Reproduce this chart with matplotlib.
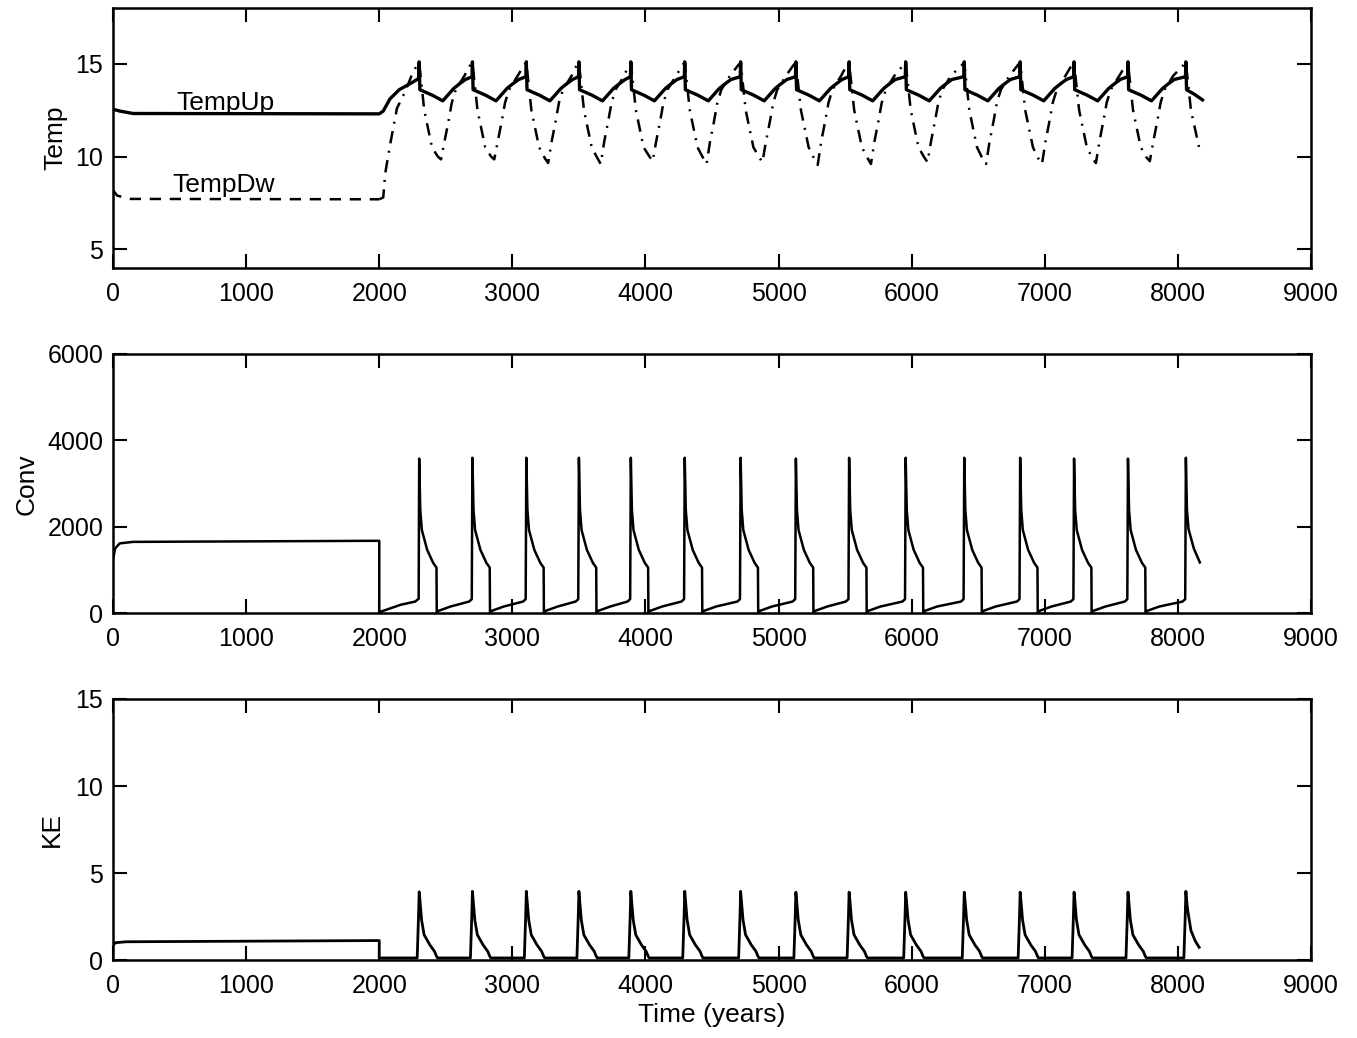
import numpy as np
import matplotlib
matplotlib.use("Agg")
import matplotlib.pyplot as plt

plt.rcParams['font.family'] = ['Liberation Sans', 'DejaVu Sans']

# ---- data (time in years) ----
# upper layer temperature
tempup_t = [0, 50, 150, 2000, 2030, 2080, 2150, 2250, 2295,
            2300, 2305, 2400, 2477, 2520, 2560, 2600, 2647, 2697,
            2700, 2705, 2800, 2877, 2920, 2960, 3000, 3047, 3102,
            3105, 3110, 3205, 3282, 3325, 3365, 3405, 3452, 3497,
            3500, 3505, 3600, 3677, 3720, 3760, 3800, 3847, 3887,
            3890, 3895, 3990, 4067, 4110, 4150, 4190, 4237, 4292,
            4295, 4300, 4395, 4472, 4515, 4555, 4595, 4642, 4712,
            4715, 4720, 4815, 4892, 4935, 4975, 5015, 5062, 5127,
            5130, 5135, 5230, 5307, 5350, 5390, 5430, 5477, 5527,
            5530, 5535, 5630, 5707, 5750, 5790, 5830, 5877, 5952,
            5955, 5960, 6055, 6132, 6175, 6215, 6255, 6302, 6392,
            6395, 6400, 6495, 6572, 6615, 6655, 6695, 6742, 6812,
            6815, 6820, 6915, 6992, 7035, 7075, 7115, 7162, 7217,
            7220, 7225, 7320, 7397, 7440, 7480, 7520, 7567, 7622,
            7625, 7630, 7725, 7802, 7845, 7885, 7925, 7972, 8057,
            8060, 8065, 8125, 8185]
tempup_v = [12.55, 12.45, 12.32, 12.3, 12.45, 13.1, 13.6, 14.0, 14.2,
            15.1, 13.6, 13.3, 13.0, 13.35, 13.67, 13.9, 14.15, 14.3,
            15.1, 13.6, 13.3, 13.0, 13.35, 13.67, 13.9, 14.15, 14.3,
            15.1, 13.6, 13.3, 13.0, 13.35, 13.67, 13.9, 14.15, 14.3,
            15.1, 13.6, 13.3, 13.0, 13.35, 13.67, 13.9, 14.15, 14.3,
            15.1, 13.6, 13.3, 13.0, 13.35, 13.67, 13.9, 14.15, 14.3,
            15.1, 13.6, 13.3, 13.0, 13.35, 13.67, 13.9, 14.15, 14.3,
            15.1, 13.6, 13.3, 13.0, 13.35, 13.67, 13.9, 14.15, 14.3,
            15.1, 13.6, 13.3, 13.0, 13.35, 13.67, 13.9, 14.15, 14.3,
            15.1, 13.6, 13.3, 13.0, 13.35, 13.67, 13.9, 14.15, 14.3,
            15.1, 13.6, 13.3, 13.0, 13.35, 13.67, 13.9, 14.15, 14.3,
            15.1, 13.6, 13.3, 13.0, 13.35, 13.67, 13.9, 14.15, 14.3,
            15.1, 13.6, 13.3, 13.0, 13.35, 13.67, 13.9, 14.15, 14.3,
            15.1, 13.6, 13.3, 13.0, 13.35, 13.67, 13.9, 14.15, 14.3,
            15.1, 13.6, 13.3, 13.0, 13.35, 13.67, 13.9, 14.15, 14.3,
            15.1, 13.6, 13.35, 13.05]

# deep layer temperature
tempdw_t = [0, 30, 130, 2000, 2030, 2045, 2083, 2133, 2195, 2245, 2285,
            2300, 2338, 2396, 2440, 2464, 2490, 2520, 2545, 2575, 2640, 2685,
            2700, 2738, 2796, 2840, 2864, 2890, 2920, 2945, 2975, 3040, 3090,
            3105, 3143, 3201, 3245, 3269, 3295, 3325, 3350, 3380, 3445, 3485,
            3500, 3538, 3596, 3640, 3664, 3690, 3720, 3745, 3775, 3840, 3875,
            3890, 3928, 3986, 4030, 4054, 4080, 4110, 4135, 4165, 4230, 4280,
            4295, 4333, 4391, 4435, 4459, 4485, 4515, 4540, 4570, 4635, 4700,
            4715, 4753, 4811, 4855, 4879, 4905, 4935, 4960, 4990, 5055, 5115,
            5130, 5168, 5226, 5270, 5294, 5320, 5350, 5375, 5405, 5470, 5515,
            5530, 5568, 5626, 5670, 5694, 5720, 5750, 5775, 5805, 5870, 5940,
            5955, 5993, 6051, 6095, 6119, 6145, 6175, 6200, 6230, 6295, 6380,
            6395, 6433, 6491, 6535, 6559, 6585, 6615, 6640, 6670, 6735, 6800,
            6815, 6853, 6911, 6955, 6979, 7005, 7035, 7060, 7090, 7155, 7205,
            7220, 7258, 7316, 7360, 7384, 7410, 7440, 7465, 7495, 7560, 7610,
            7625, 7663, 7721, 7765, 7789, 7815, 7845, 7870, 7900, 7965, 8045,
            8060, 8098, 8165]
tempdw_v = [8.2, 7.9, 7.72, 7.7, 7.8, 9.1, 10.7, 12.6, 13.5, 14.4, 14.95,
            15.05, 12.5, 10.5, 10.0, 9.85, 10.8, 11.9, 12.9, 13.6, 14.35, 14.95,
            15.05, 12.5, 10.5, 10.0, 9.85, 10.8, 11.9, 12.9, 13.6, 14.35, 14.95,
            15.05, 12.5, 10.5, 9.9, 9.65, 10.8, 11.9, 12.9, 13.6, 14.35, 14.95,
            15.05, 12.5, 10.5, 9.9, 9.6, 10.8, 11.9, 12.9, 13.6, 14.35, 14.95,
            15.05, 12.5, 10.5, 10.0, 9.75, 10.8, 11.9, 12.9, 13.6, 14.35, 14.95,
            15.05, 12.5, 10.5, 9.9, 9.6, 10.8, 11.9, 12.9, 13.6, 14.35, 14.95,
            15.05, 12.5, 10.5, 9.95, 9.7, 10.8, 11.9, 12.9, 13.6, 14.35, 14.95,
            15.05, 12.5, 10.5, 9.85, 9.55, 10.8, 11.9, 12.9, 13.6, 14.35, 14.95,
            15.05, 12.5, 10.5, 9.9, 9.6, 10.8, 11.9, 12.9, 13.6, 14.35, 14.95,
            15.05, 12.5, 10.5, 9.95, 9.7, 10.8, 11.9, 12.9, 13.6, 14.35, 14.95,
            15.05, 12.5, 10.5, 9.85, 9.6, 10.8, 11.9, 12.9, 13.6, 14.35, 14.95,
            15.05, 12.5, 10.5, 9.85, 9.6, 10.8, 11.9, 12.9, 13.6, 14.35, 14.95,
            15.05, 12.5, 10.5, 9.9, 9.65, 10.8, 11.9, 12.9, 13.6, 14.35, 14.95,
            15.05, 12.5, 10.5, 9.95, 9.75, 10.8, 11.9, 12.9, 13.6, 14.35, 14.95,
            15.05, 12.5, 10.3]

# convection
conv_t = [0, 15, 50, 150, 2000, 2000, 2010, 2160, 2270, 2296,
          2300, 2308, 2320, 2360, 2405, 2430, 2432, 2445, 2535, 2675, 2695,
          2700, 2708, 2720, 2760, 2805, 2830, 2832, 2845, 2935, 3080, 3100,
          3105, 3113, 3125, 3165, 3210, 3235, 3237, 3250, 3340, 3475, 3495,
          3500, 3508, 3520, 3560, 3605, 3630, 3632, 3645, 3735, 3865, 3885,
          3890, 3898, 3910, 3950, 3995, 4020, 4022, 4035, 4125, 4270, 4290,
          4295, 4303, 4315, 4355, 4400, 4425, 4427, 4440, 4530, 4690, 4710,
          4715, 4723, 4735, 4775, 4820, 4845, 4847, 4860, 4950, 5105, 5125,
          5130, 5138, 5150, 5190, 5235, 5260, 5262, 5275, 5365, 5505, 5525,
          5530, 5538, 5550, 5590, 5635, 5660, 5662, 5675, 5765, 5930, 5950,
          5955, 5963, 5975, 6015, 6060, 6085, 6087, 6100, 6190, 6370, 6390,
          6395, 6403, 6415, 6455, 6500, 6525, 6527, 6540, 6630, 6790, 6810,
          6815, 6823, 6835, 6875, 6920, 6945, 6947, 6960, 7050, 7195, 7215,
          7220, 7228, 7240, 7280, 7325, 7350, 7352, 7365, 7455, 7600, 7620,
          7625, 7633, 7645, 7685, 7730, 7755, 7757, 7770, 7860, 8035, 8055,
          8060, 8068, 8080, 8120, 8165]
conv_v = [1240, 1500, 1620, 1655, 1680, 15, 40, 200, 275, 340,
          3580, 2400, 1930, 1470, 1170, 1060, 15, 60, 160, 275, 330,
          3600, 2400, 1930, 1470, 1170, 1060, 15, 60, 160, 275, 330,
          3600, 2400, 1930, 1470, 1170, 1060, 15, 60, 160, 275, 330,
          3600, 2400, 1930, 1470, 1170, 1060, 15, 60, 160, 275, 330,
          3600, 2400, 1930, 1470, 1170, 1060, 15, 60, 160, 275, 330,
          3600, 2400, 1930, 1470, 1170, 1060, 15, 60, 160, 275, 330,
          3600, 2400, 1930, 1470, 1170, 1060, 15, 60, 160, 275, 330,
          3580, 2400, 1930, 1470, 1170, 1060, 15, 60, 160, 275, 330,
          3600, 2400, 1930, 1470, 1170, 1060, 15, 60, 160, 275, 330,
          3600, 2400, 1930, 1470, 1170, 1060, 15, 60, 160, 275, 330,
          3600, 2400, 1930, 1470, 1170, 1060, 15, 60, 160, 275, 330,
          3600, 2400, 1930, 1470, 1170, 1060, 15, 60, 160, 275, 330,
          3580, 2400, 1930, 1470, 1170, 1060, 15, 60, 160, 275, 330,
          3580, 2400, 1930, 1470, 1170, 1060, 15, 60, 160, 275, 330,
          3600, 2400, 1950, 1500, 1180]

# kinetic energy
ke_t = [0, 20, 100, 2000, 2000,
        2285, 2295, 2300, 2305, 2318, 2337, 2380, 2415, 2430, 2438,
        2685, 2695, 2700, 2705, 2718, 2737, 2780, 2815, 2830, 2838,
        3090, 3100, 3105, 3110, 3123, 3142, 3185, 3220, 3235, 3243,
        3485, 3495, 3500, 3505, 3518, 3537, 3580, 3615, 3630, 3638,
        3875, 3885, 3890, 3895, 3908, 3927, 3970, 4005, 4020, 4028,
        4280, 4290, 4295, 4300, 4313, 4332, 4375, 4410, 4425, 4433,
        4700, 4710, 4715, 4720, 4733, 4752, 4795, 4830, 4845, 4853,
        5115, 5125, 5130, 5135, 5148, 5167, 5210, 5245, 5260, 5268,
        5515, 5525, 5530, 5535, 5548, 5567, 5610, 5645, 5660, 5668,
        5940, 5950, 5955, 5960, 5973, 5992, 6035, 6070, 6085, 6093,
        6380, 6390, 6395, 6400, 6413, 6432, 6475, 6510, 6525, 6533,
        6800, 6810, 6815, 6820, 6833, 6852, 6895, 6930, 6945, 6953,
        7205, 7215, 7220, 7225, 7238, 7257, 7300, 7335, 7350, 7358,
        7610, 7620, 7625, 7630, 7643, 7662, 7705, 7740, 7755, 7763,
        8045, 8055, 8060, 8065, 8073, 8098, 8130, 8160]
ke_v = [0.86, 1.0, 1.05, 1.12, 0.12,
        0.12, 2.5, 3.92, 3.5, 2.3, 1.45, 0.87, 0.5, 0.22, 0.12,
        0.12, 2.5, 3.95, 3.5, 2.3, 1.45, 0.87, 0.5, 0.22, 0.12,
        0.12, 2.5, 3.95, 3.5, 2.3, 1.45, 0.87, 0.5, 0.22, 0.12,
        0.12, 2.5, 3.95, 3.5, 2.3, 1.45, 0.87, 0.5, 0.22, 0.12,
        0.12, 2.5, 3.95, 3.5, 2.3, 1.45, 0.87, 0.5, 0.22, 0.12,
        0.12, 2.5, 3.95, 3.5, 2.3, 1.45, 0.87, 0.5, 0.22, 0.12,
        0.12, 2.5, 3.95, 3.5, 2.3, 1.45, 0.87, 0.5, 0.22, 0.12,
        0.12, 2.5, 3.9, 3.5, 2.3, 1.45, 0.87, 0.5, 0.22, 0.12,
        0.12, 2.5, 3.9, 3.5, 2.3, 1.45, 0.87, 0.5, 0.22, 0.12,
        0.12, 2.5, 3.9, 3.5, 2.3, 1.45, 0.87, 0.5, 0.22, 0.12,
        0.12, 2.5, 3.9, 3.5, 2.3, 1.45, 0.87, 0.5, 0.22, 0.12,
        0.12, 2.5, 3.9, 3.5, 2.3, 1.45, 0.87, 0.5, 0.22, 0.12,
        0.12, 2.5, 3.9, 3.5, 2.3, 1.45, 0.87, 0.5, 0.22, 0.12,
        0.12, 2.5, 3.9, 3.5, 2.3, 1.45, 0.87, 0.5, 0.22, 0.12,
        0.12, 2.5, 3.95, 3.5, 2.9, 1.7, 1.1, 0.73]

xticks = [0, 1000, 2000, 3000, 4000, 5000, 6000, 7000, 8000, 9000]

# ---- figure ----
fig = plt.figure(figsize=(13.57, 10.38), dpi=100)
ax1 = fig.add_axes([0.0833, 0.7418, 0.8828, 0.2505])
ax2 = fig.add_axes([0.0833, 0.4090, 0.8828, 0.2500])
ax3 = fig.add_axes([0.0833, 0.0751, 0.8828, 0.2515])

fs = 18
lfs = 19

# Temp panel: deep temp dashed during spin-up, dash-dot afterwards
tdw = np.array(tempdw_t)
vdw = np.array(tempdw_v)
spin = tdw <= 2000
osc = tdw >= 2000
ax1.plot(tempup_t, tempup_v, color='k', lw=2.4)
ax1.plot(tdw[spin], vdw[spin], color='k', lw=1.8, linestyle=(0, (4.5, 3.5)))
ax1.plot(tdw[osc], vdw[osc], color='k', lw=1.8,
         linestyle=(0, (5, 3, 0.8, 3)))
ax1.text(479, 12.52, 'TempUp', fontsize=lfs, va='baseline', ha='left')
ax1.text(449, 8.09, 'TempDw', fontsize=lfs, va='baseline', ha='left')
ax1.set_ylim(4, 18)
ax1.set_yticks([5, 10, 15])
ax1.set_ylabel('Temp', fontsize=lfs, labelpad=6)

# Conv panel
ax2.plot(conv_t, conv_v, color='k', lw=1.8)
ax2.set_ylim(0, 6000)
ax2.set_yticks([0, 2000, 4000, 6000])
ax2.set_ylabel('Conv', fontsize=lfs, labelpad=6)

# KE panel
ax3.plot(ke_t, ke_v, color='k', lw=2.0)
ax3.set_ylim(0, 15)
ax3.set_yticks([0, 5, 10, 15])
ax3.set_ylabel('KE', fontsize=lfs, labelpad=8)
ax3.set_xlabel('Time (years)', fontsize=lfs, labelpad=4)

for ax in (ax1, ax2, ax3):
    ax.set_xlim(0, 9000)
    ax.set_xticks(xticks)
    ax.tick_params(direction='in', length=10, width=1.5, top=True, right=True,
                   labelsize=fs)
    ax.tick_params(axis='x', pad=10)
    ax.tick_params(axis='y', pad=7)
    for sp in ax.spines.values():
        sp.set_linewidth(1.8)

fig.savefig('out.png', dpi=100)
